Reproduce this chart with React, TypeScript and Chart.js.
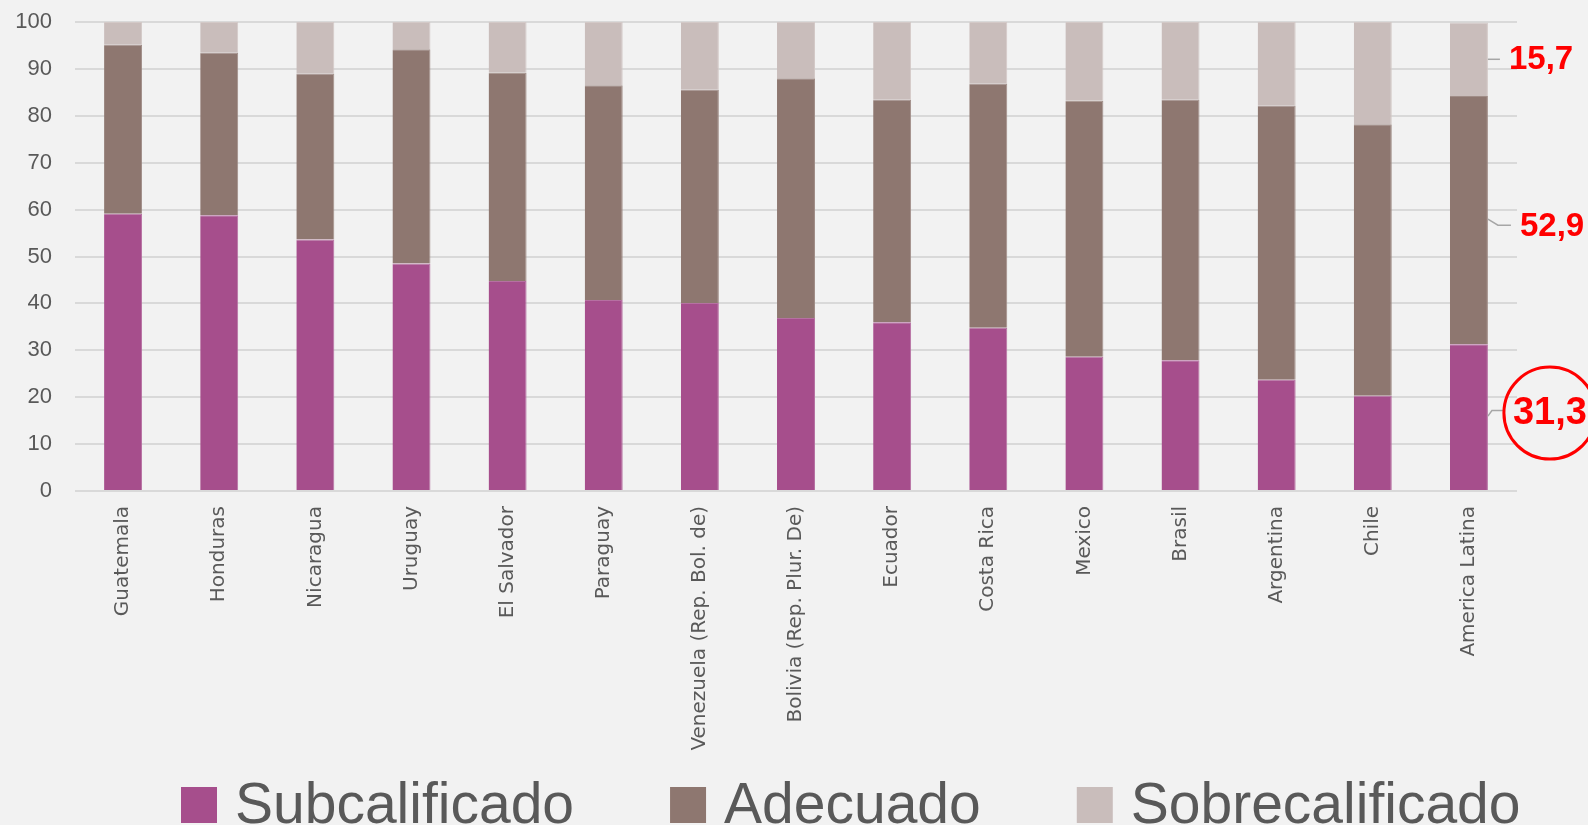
import React, { useEffect, useRef } from "react";
import { Chart, registerables } from "chart.js";

Chart.register(...registerables);

const categories = [
  "Guatemala",
  "Honduras",
  "Nicaragua",
  "Uruguay",
  "El Salvador",
  "Paraguay",
  "Venezuela (Rep. Bol. de)",
  "Bolivia (Rep. Plur. De)",
  "Ecuador",
  "Costa Rica",
  "Mexico",
  "Brasil",
  "Argentina",
  "Chile",
  "America Latina",
];

const subcalificado = [59.1, 58.8, 53.6, 48.5, 44.8, 40.7, 40.1, 36.9, 36.0, 34.8, 28.6, 27.9, 23.7, 20.3, 31.3];
const adecuado = [36.1, 34.7, 35.4, 45.7, 44.4, 45.8, 45.5, 51.1, 47.5, 52.1, 54.6, 55.6, 58.5, 57.9, 52.9];
const sobrecalificado = [4.8, 6.5, 11.0, 5.8, 10.8, 13.5, 14.4, 12.0, 16.5, 13.1, 16.8, 16.5, 17.8, 21.8, 15.7];

const seriesLabels = ["Subcalificado", "Adecuado", "Sobrecalificado"];
const seriesColors = ["#A64E8C", "#8E7770", "#C9BDBB"];
const seriesEdges = ["#B670A2", "#A08D87", "#D3C9C7"];

const W = 1588;
const H = 825;
const AXIS_FONT = "'Liberation Sans', Arial, sans-serif";

const calloutPlugin = {
  id: "callouts",
  afterDatasetsDraw(chart: any) {
    const ctx = chart.ctx;
    const idx = categories.length - 1;
    const specs = [
      { pts: [[0, -1], [4, -6.5], [16, -6.5]], tx: 25, ty: -4, size: 38, circle: true },
      { pts: [[0, -1], [10, 5], [23, 5]], tx: 32, ty: 7, size: 33, circle: false },
      { pts: [[0, 0], [12, 0]], tx: 21, ty: 1, size: 33, circle: false },
    ];
    ctx.save();
    chart.data.datasets.forEach((ds: any, di: number) => {
      const meta = chart.getDatasetMeta(di);
      const el: any = meta.data[idx];
      if (!el) return;
      const right = el.x + el.width / 2;
      const yMid = (el.y + el.base) / 2;
      const s = specs[di];
      ctx.beginPath();
      ctx.strokeStyle = "#A6A6A6";
      ctx.lineWidth = 1.5;
      s.pts.forEach((p: number[], i: number) => {
        if (i === 0) ctx.moveTo(right + p[0], yMid + p[1]);
        else ctx.lineTo(right + p[0], yMid + p[1]);
      });
      ctx.stroke();
      ctx.font = "bold " + s.size + "px " + AXIS_FONT;
      ctx.fillStyle = "#FF0000";
      ctx.textAlign = "left";
      ctx.textBaseline = "middle";
      const txt = String(ds.data[idx]).replace(".", ",");
      ctx.fillText(txt, right + s.tx, yMid + s.ty);
      if (s.circle) {
        ctx.beginPath();
        ctx.strokeStyle = "#FF0000";
        ctx.lineWidth = 3;
        ctx.ellipse(right + 62, yMid + s.ty, 46, 46, 0, 0, Math.PI * 2);
        ctx.stroke();
      }
    });
    ctx.restore();
  },
};

const legendPlugin = {
  id: "bigLegend",
  afterDraw(chart: any) {
    const ctx = chart.ctx;
    ctx.save();
    ctx.font = "57px " + AXIS_FONT;
    ctx.textAlign = "left";
    ctx.textBaseline = "alphabetic";
    let x = 181;
    const baseline = 823;
    chart.data.datasets.forEach((ds: any) => {
      ctx.fillStyle = ds.backgroundColor;
      ctx.fillRect(x, 787, 36, 36);
      ctx.fillStyle = "#595959";
      ctx.fillText(ds.label, x + 54, baseline);
      x += 54 + ctx.measureText(ds.label).width + 96;
    });
    ctx.restore();
  },
};

export default function App() {
  const ref = useRef<HTMLCanvasElement | null>(null);

  useEffect(() => {
    document.body.style.margin = "0";
    document.body.style.background = "#F2F2F2";
    if (!ref.current) return;
    const datasets = [subcalificado, adecuado, sobrecalificado].map((d, i) => ({
      label: seriesLabels[i],
      data: d,
      backgroundColor: seriesColors[i],
      borderColor: seriesEdges[i],
      borderWidth: { top: 1, right: 1, left: 0, bottom: 0 },
      borderSkipped: false,
      barPercentage: 0.395,
      categoryPercentage: 1,
    }));
    const chart = new Chart(ref.current, {
      type: "bar",
      data: { labels: categories, datasets },
      options: {
        responsive: false,
        animation: false,
        devicePixelRatio: 1,
        layout: { padding: { top: 22, right: 71, left: 0, bottom: 0 } },
        plugins: {
          legend: { display: false },
          tooltip: { enabled: false },
        },
        scales: {
          x: {
            stacked: true,
            grid: { display: false },
            border: { display: false },
            ticks: {
              autoSkip: false,
              minRotation: 90,
              maxRotation: 90,
              padding: 7,
              color: "#595959",
              font: { family: "'DejaVu Sans', Verdana, sans-serif", size: 20 },
            },
            afterFit: (s: any) => {
              s.height = H - 491;
            },
          },
          y: {
            stacked: true,
            min: 0,
            max: 100,
            ticks: {
              stepSize: 10,
              padding: 23,
              color: "#595959",
              font: { family: AXIS_FONT, size: 22 },
            },
            grid: { color: "#D9D9D9", lineWidth: 2, drawTicks: false },
            border: { display: false },
            afterFit: (s: any) => {
              s.width = 75;
              s.paddingTop = 0;
              s.paddingBottom = 0;
            },
          },
        },
      },
      plugins: [calloutPlugin, legendPlugin],
    });
    return () => chart.destroy();
  }, []);

  return (
    <div style={{ position: "fixed", left: 0, top: 0, width: W, height: H, background: "#F2F2F2" }}>
      <canvas ref={ref} width={W} height={H} style={{ display: "block", width: W, height: H }} />
    </div>
  );
}
